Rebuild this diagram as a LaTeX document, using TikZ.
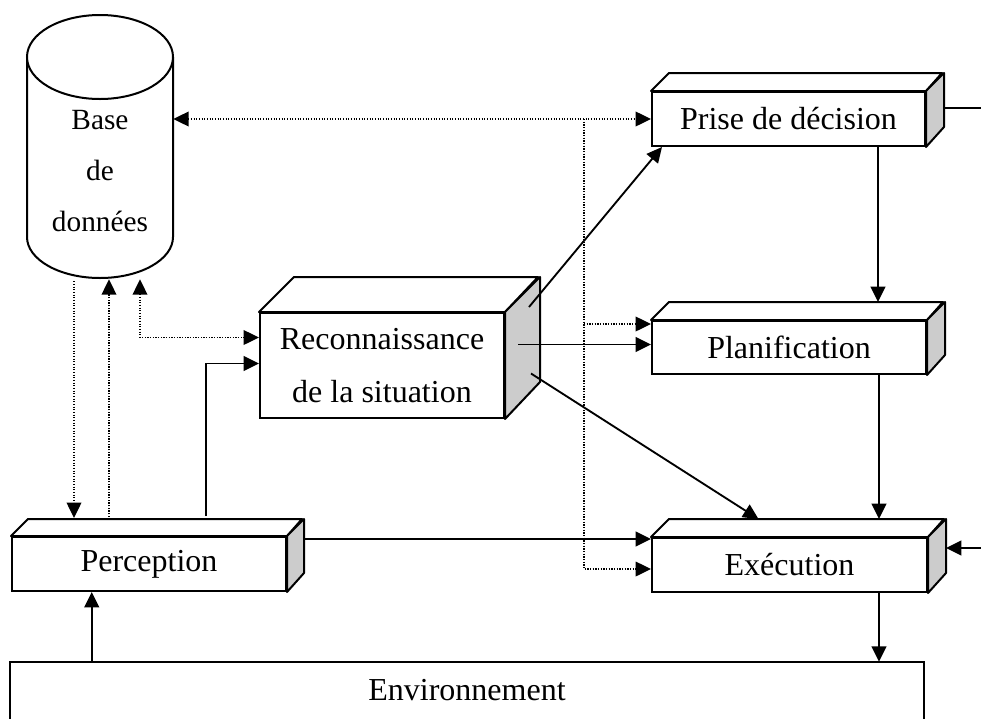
\documentclass[tikz,border=0pt]{standalone}
\usepackage{fontspec}
\setmainfont{Liberation Serif}
\usetikzlibrary{arrows.meta,calc}
\newcommand\boxthree[7]{%
  \node[front,minimum width={(#4-#2)*0.75pt},minimum height={(#5-#3)*0.75pt}] (#1) at ({(#2+#4)/2},{(#3+#5)/2}) {#7};
  \draw[topface] (#1.north west) -- ++(#6,-#6) -- ++({#4-#2},0) -- (#1.north east) -- cycle;
  \draw[sideface] (#1.north east) -- ++(#6,-#6) -- ++(0,{#5-#3}) -- (#1.south east) -- cycle;
}
\begin{document}
\begin{tikzpicture}[x=0.75pt,y=-0.75pt,
  tip/.style={-{Triangle[length=11.5pt,width=11pt]}},
  tips/.style={{Triangle[length=11.5pt,width=11pt]}-{Triangle[length=11.5pt,width=11pt]}},
  conn/.style={line width=1.4pt,tip},
  plain/.style={line width=1.4pt},
  dots/.style={line width=1pt,dash pattern=on 0.9pt off 1.1pt},
  front/.style={draw,line width=1.5pt,fill=white,inner sep=0pt,align=center,font=\fontsize{24}{40}\selectfont},
  topface/.style={draw,line width=1.5pt,fill=white,line join=round},
  sideface/.style={draw,line width=1.5pt,fill=black!20,line join=round}]
\useasboundingbox (0,0) rectangle (981,718);
\clip (0,0) rectangle (981,718);
\fill[white] (0,0) rectangle (981,718);

% database cylinder
\fill[white] (27,57) -- (27,237) arc[start angle=180,end angle=360,x radius=54.75pt,y radius=30.75pt] -- (173,57) -- cycle;
\draw[line width=1.5pt] (27,57) -- (27,237) arc[start angle=180,end angle=360,x radius=54.75pt,y radius=30.75pt] -- (173,57);
\draw[line width=1.5pt,fill=white] (100,57) ellipse [x radius=54.75pt, y radius=31.5pt];
\node[inner sep=0pt,minimum width=109.5pt,minimum height={214*0.75pt},align=center,font=\fontsize{22}{38}\selectfont] (db) at (100,171) {Base\\de\\données};

% boxes
\boxthree{prise}{652}{92}{925}{146}{18}{Prise de décision}
\boxthree{plan}{652}{321}{926}{374}{18}{Planification}
\boxthree{exec}{652}{538}{927}{592}{18}{Exécution}
\boxthree{perc}{12}{537}{286}{591}{17}{Perception}
\boxthree{rec}{260}{313}{504}{418}{35}{Reconnaissance\\de la situation}

% environment
\node[inner sep=0pt,minimum width={914*0.75pt},minimum height={56*0.75pt},font=\fontsize{24}{28}\selectfont] (env) at (467,690) {Environnement};
\draw[line width=1.5pt] ($(env.south west)+(0,8)$) -- (env.north west) -- (env.north east) -- ($(env.south east)+(0,8)$);

% dotted links
\draw[dots,tips] (db.east |- prise.west) -- (prise.west);
\coordinate (dvtop) at ($(prise.west)+(-67,0)$);
\draw[dots,tip] (dvtop) |- ($(exec.west)+(0,4)$);
\draw[dots,tip] ($(dvtop |- plan.north west)+(0,4)$) -- ($(plan.north west)+(0,4)$);
\coordinate (dbd) at ($(db.south)+(-26,3)$);
\coordinate (dbu) at ($(db.south)+(9,1)$);
\coordinate (dbr) at ($(db.south)+(40,1)$);
\draw[dots,tip] (dbd) -- ($(dbd |- perc.north)+(0,-18)$);
\draw[dots,tip] ($(dbu |- perc.north)+(0,-19)$) -- (dbu);
\draw[dots,tips] (dbr) |- ($(rec.west)+(0,-28)$);

% solid links
\coordinate (pup) at ($(perc.north west)+(195,-20)$);
\draw[conn] (pup) |- ($(rec.west)+(0,-2)$);
\draw[conn] ($(perc.north east)+(17,3)$) coordinate (pe) -- (pe -| exec.west);
\draw[conn] ($(rec.north east)+(24,-5)$) -- ($(prise.south west)+(11,0)$);
\draw[conn] ($(rec.east)+(13,-21)$) coordinate (rp) -- (rp -| plan.west);
\draw[conn] ($(rec.east)+(26,8)$) -- ($(exec.north)+(-31,-18)$);
\draw[conn] ($(prise.south)+(89.5,0)$) -- ($(plan.north)+(89,-18)$);
\draw[conn] ($(plan.south)+(90,0)$) -- ($(exec.north)+(89.5,-18)$);
\draw[conn] ($(exec.south)+(89.5,0)$) coordinate (es) -- (es |- env.north);
\draw[conn] ($(env.north west)+(82,0)$) coordinate (ep) -- (ep |- perc.south);
\coordinate (redge) at (985,0);
\draw[plain] ($(prise.east)+(18,-11)$) coordinate (pr) -- (pr -| redge);
\coordinate (rin) at (985,548);
\draw[conn] (rin) -- ($(exec.east |- rin)+(18,0)$);
\end{tikzpicture}
\end{document}
